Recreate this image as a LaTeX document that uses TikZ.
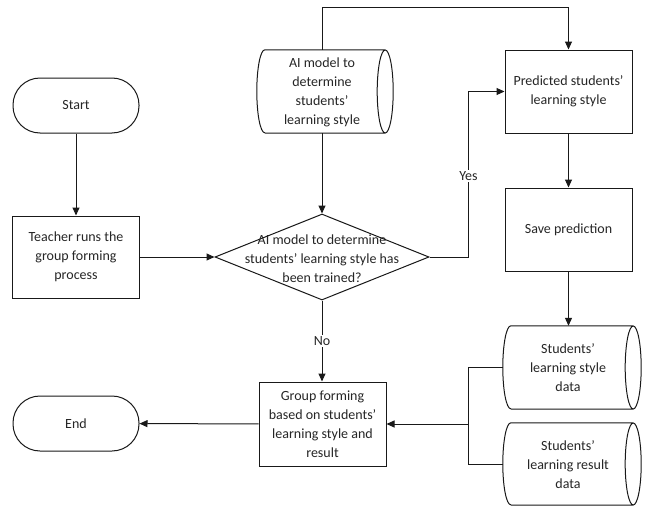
\documentclass[tikz,border=0pt]{standalone}
\usepackage{fontspec}
\setmainfont{Carlito}
\usetikzlibrary{arrows.meta,shapes.geometric}
\begin{document}
\begin{tikzpicture}[x=1pt,y=-1pt,
  every node/.style={font=\fontsize{14}{19}\selectfont, align=center, text=black!85},
  line/.style={line width=1pt, draw=black!90},
  box/.style={line, draw, inner sep=0pt, minimum width=127pt},
  term/.style={line, draw, rounded corners=27pt, minimum width=126pt, minimum height=55pt, inner sep=0pt},
  store/.style={inner sep=0pt, minimum width=138pt},
  conn/.style={line, -{Triangle[length=8pt,width=7pt]}},
  lab/.style={fill=white, inner sep=1.5pt}]
\fill[white] (0,0) rectangle (646,506);
\useasboundingbox (0,0) rectangle (646,506);

\node[term] (start) at (76,105.5) {Start};
\node[box, minimum height=82pt] (teach) at (76,257) {Teacher runs the\\group forming\\process};
\node[diamond, line, draw, minimum width=214pt, minimum height=86pt, inner sep=0pt] (dia) at (322,257) {};
\node (diat) at (322,258.5) {AI model to determine\\students’ learning style has\\been trained?};
\node[store, minimum height=83pt, minimum width=136pt] (ai) at (325,91.5) {};
\node (ait) at (322,92.5) {AI model to\\determine\\students’\\learning style};
\node[box, minimum height=83pt] (pred) at (568.5,91.5) {Predicted students’\\learning style};
\node[box, minimum height=83pt] (save) at (568.5,229.5) {Save prediction};
\node[store, minimum height=83pt] (d1) at (572,367.5) {};
\node (d1t) at (568,368) {Students’\\learning style\\data};
\node[store, minimum height=82pt] (d2) at (572,464) {};
\node (d2t) at (568,465) {Students’\\learning result\\data};
\node[box, minimum height=84pt] (grp) at (322.5,424) {Group forming\\based on students’\\learning style and\\result};
\node[term] (end) at (76,423.5) {End};

\foreach \n/\h in {ai/41.5, d1/41.5, d2/41}{
  \draw[line] ([xshift=8pt]\n.north west) -- ([xshift=-8pt]\n.north east)
    ([xshift=8pt]\n.south west) -- ([xshift=-8pt]\n.south east)
    ([xshift=-8pt]\n.east) ellipse [x radius=8pt, y radius=\h pt]
    ([xshift=8pt]\n.north west) arc[start angle=90, end angle=270, x radius=8pt, y radius=\h pt];
}

\coordinate (j) at (468,424);

\draw[conn] (start) -- (teach);
\draw[conn] (teach) -- (dia);
\draw[conn] (ai.south -| dia.north) -- (dia.north);
\draw[conn] (ai.north -| dia.north) -- ++(0,-42) -| (pred.north);
\draw[conn] (dia.east) -- ++(39,0) |- (pred.west) node[lab, pos=0.245] {Yes};
\draw[conn] (pred) -- (save);
\draw[conn] (save.south) -- (save.south |- d1.north);
\draw[conn] (dia.south) -- (dia.south |- grp.north) node[lab, pos=0.5] {No};
\draw[line] (d1.west) -- (d1.west -| j) -- (d2.west -| j) -- (d2.west);
\draw[conn] (j) -- (grp.east);
\draw[conn] (grp) -- (end);
\end{tikzpicture}
\end{document}
